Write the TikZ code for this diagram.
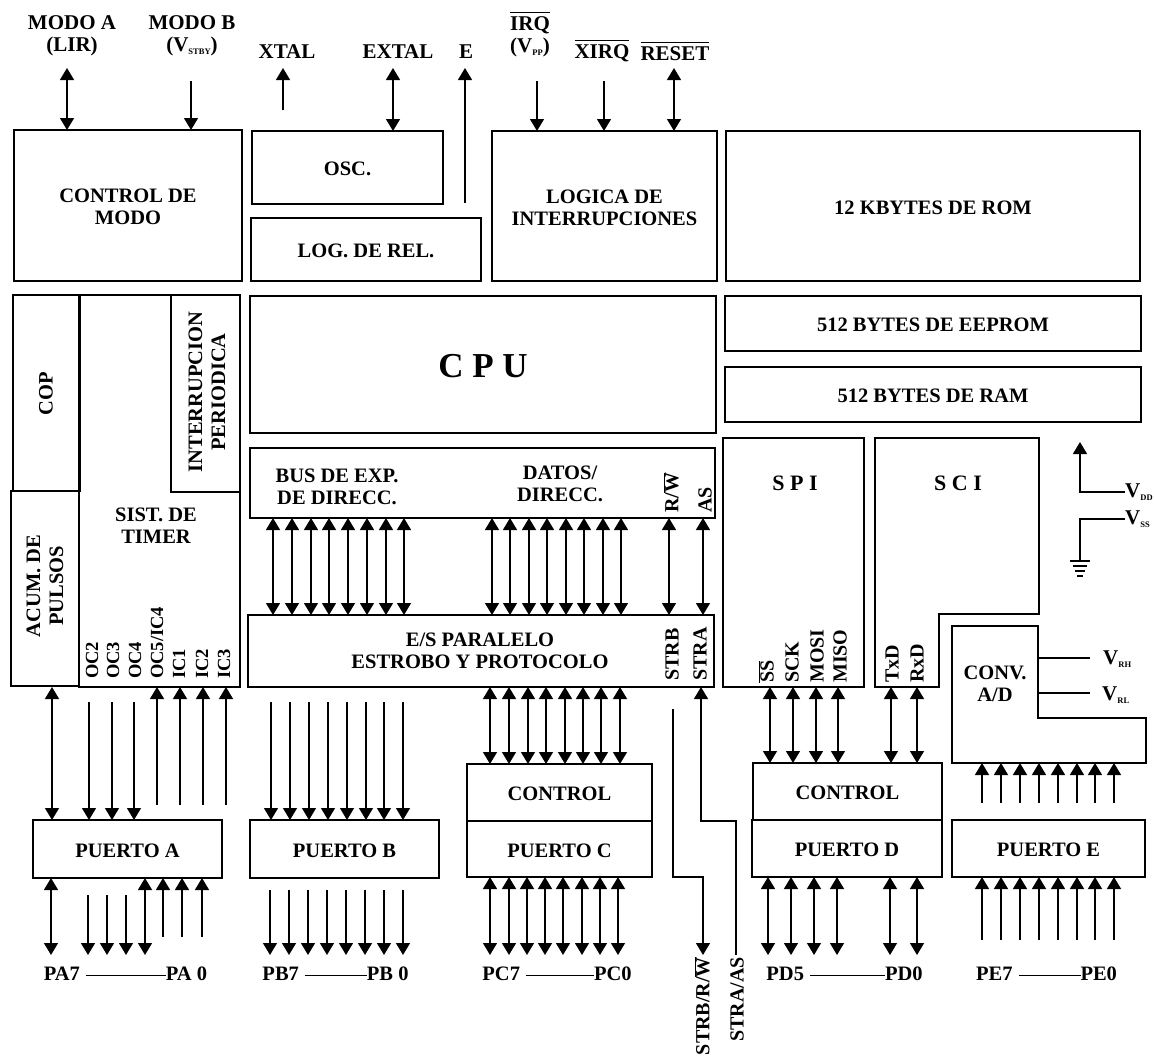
\documentclass[tikz,border=0pt]{standalone}
\usepackage{fontspec}
\setmainfont{Liberation Serif}
\usetikzlibrary{arrows.meta}
\newcommand{\bx}[6]{%
  \pgfmathsetmacro\bcx{(#2+#4)/2}\pgfmathsetmacro\bcy{(#3+#5)/2}%
  \pgfmathsetmacro\bw{#4-#2}\pgfmathsetmacro\bh{#5-#3}%
  \node[boxn,minimum width=\bw pt,minimum height=\bh pt] (#1) at (\bcx,\bcy) {};
  \node[lab] (#1t) at (\bcx,\bcy+1.5) {#6};}
\newcommand{\ol}[1]{$\overline{\mbox{#1}}$}
\newcommand{\olt}[1]{$\overline{\mbox{\rule{0pt}{17pt}#1}}$}
\newcommand{\sbs}[1]{\raisebox{-3pt}{\fontsize{8.5}{9}\selectfont #1}}
\newcommand{\dashln}[1]{\hspace{6pt}\rule[5pt]{#1pt}{1.2pt}}
\begin{document}
\begin{tikzpicture}[x=1pt,y=-1pt,
  >={Triangle[length=12pt,width=14pt]},
  boxn/.style={draw=black,line width=1.6pt,inner sep=0pt,outer sep=0pt},
  lab/.style={inner sep=0pt,align=center,font=\fontsize{20.5}{22}\selectfont\bfseries},
  smalllab/.style={inner sep=0pt,align=center,font=\fontsize{21}{22}\selectfont\bfseries},
  vlab/.style={inner sep=0pt,rotate=90,anchor=west,font=\fontsize{20}{22}\selectfont\bfseries},
  vlabt/.style={inner sep=0pt,rotate=90,anchor=west,font=\fontsize{18.5}{22}\selectfont\bfseries},
  vlabb/.style={inner sep=0pt,rotate=90,align=center,font=\fontsize{20.5}{23}\selectfont\bfseries},
  spaced/.style={inner sep=0pt,align=center,font=\fontsize{22}{24}\selectfont\bfseries},
  conn/.style={line width=1.4pt,black},
  plainln/.style={line width=1.6pt,black,line join=miter}]
\useasboundingbox (0,0) rectangle (1154,1061);

% --- top row boxes
\bx{mode}{14}{130}{242}{281}{CONTROL DE\\MODO}
\bx{osc}{252}{131}{443}{204}{OSC.}
\bx{logrel}{251}{218}{481}{281}{\raisebox{-2pt}{LOG. DE REL.}}
\bx{logint}{492}{131}{717}{281}{LOGICA DE\\INTERRUPCIONES}
\bx{rom}{726}{131}{1140}{281}{12 KBYTES DE ROM}
% --- timer group
\bx{timer}{79}{295}{240}{687}{}
\bx{cop}{13}{295}{80}{491}{}
\bx{acum}{11}{491}{79}{686}{}
\bx{intp}{171}{295}{240}{492}{}
\node[vlabb] (copt2) at (46,394) {COP};
\node[vlabb] (intt2) at (207,392) {INTERRUPCION\\PERIODICA};
\node[vlabb] (acumt2) at (45,586) {ACUM. DE\\PULSOS};
\node[lab] (timt2) at (156,526) {SIST. DE\\TIMER};
\foreach \t/\x in {OC2/92,OC3/113,OC4/135,{OC5/IC4}/157,IC1/179,IC2/202,IC3/224}
  \node[vlabt] at (\x,679) {\t};
% --- centre
\bx{cpu}{250}{296}{716}{433}{\fontsize{35}{38}\selectfont C P U}
\bx{bus}{250}{448}{715}{518}{}
\node[lab] (bust2) at (337,487) {BUS DE EXP.\\DE DIRECC.};
\node[lab] (datt2) at (560,484) {DATOS/\\DIRECC.};
\node[vlab] (rwt) at (671,513) {R/\ol{W}};
\node[vlab] (ast) at (705,513) {AS};
\bx{es}{248}{615}{714}{687}{}
\node[lab] (est2) at (480,651) {E/S PARALELO\\ESTROBO Y PROTOCOLO};
\node[vlab] (strbt) at (672,681) {STRB};
\node[vlab] (strat) at (700,681) {STRA};
% --- right memories
\bx{eeprom}{725}{296}{1141}{351}{512 BYTES DE EEPROM}
\bx{ram}{725}{367}{1141}{422}{512 BYTES DE RAM}
% --- SPI, SCI, ADC
\bx{spi}{723}{438}{864}{687}{}
\node[spaced] (spit) at (795,483) {S P I};
\foreach \t/\x in {\ol{SS}/766,SCK/792,MOSI/817,MISO/840,TxD/892,RxD/917}
  \node[vlab] at (\x,683) {\t};
\draw[plainln] (875,438) -- (1039,438) -- (1039,614) -- (939,614) -- (939,687) coordinate (scib) -- (875,687) -- cycle;
\node[spaced] (scit) at (958,483) {S C I};
\draw[plainln] (952,626) -- (1038,626) -- (1038,718) -- (1146,718) -- (1146,763) coordinate (adcb) -- (952,763) -- cycle;
\coordinate (adcr) at (1038,658);
\coordinate (adcrl) at (1038,693);
\node[lab] (adct) at (995,684) {CONV.\\A/D};
% --- lower boxes
\bx{ctrlc}{467}{764}{652}{821}{CONTROL}
\bx{ptc}{467}{821}{652}{877}{PUERTO C}
\bx{ctrld}{753}{763}{942}{820}{CONTROL}
\bx{ptd}{752}{820}{942}{877}{PUERTO D}
\bx{pte}{952}{820}{1145}{877}{PUERTO E}
\bx{pta}{33}{820}{222}{878}{PUERTO A}
\bx{ptb}{250}{820}{439}{878}{PUERTO B}

% --- top labels and connectors
\node[smalllab] (lma) at (72,36) {MODO A\\(LIR)};
\node[smalllab] (lmb) at (192,36) {MODO B\\(V\sbs{STBY})};
\node[smalllab] (lx) at (287,52) {XTAL};
\node[smalllab] (lex) at (398,52) {EXTAL};
\node[smalllab] (le) at (466,52) {E};
\node[smalllab] (lirq) at (530,34) {\olt{IRQ}\\(V\sbs{PP})};
\node[smalllab] (lxirq) at (602,51) {\olt{XIRQ}};
\node[smalllab] (lrst) at (675,51) {\olt{RESET}};
\coordinate (tipT) at (0,68);
\coordinate (srcT) at (0,81);
\draw[conn,<->] (67,0 |- tipT) -- (67,0 |- mode.north);
\draw[conn,->] (191,0 |- srcT) -- (191,0 |- mode.north);
\coordinate (xtalend) at (283,110);
\draw[conn,->] (xtalend) -- (283,0 |- tipT);
\draw[conn,<->] (393,0 |- tipT) -- (393,0 |- osc.north);
\coordinate (eend) at (465,203);
\draw[conn,->] (eend) -- (465,0 |- tipT);
\draw[conn,->] (537,0 |- srcT) -- (537,0 |- logint.north);
\draw[conn,->] (604,0 |- srcT) -- (604,0 |- logint.north);
\draw[conn,<->] (674,0 |- tipT) -- (674,0 |- logint.north);

% --- bus to E/S
\foreach \x in {273,292,311,329,348,367,386,404,492,510,529,547,566,584,603,621,669,703}
  \draw[conn,<->] (\x,0 |- bus.south) -- (\x,0 |- es.north);
% --- E/S to control C
\foreach \x in {490,509,528,546,565,583,601,620}
  \draw[conn,<->] (\x,0 |- es.south) -- (\x,0 |- ctrlc.north);
% --- Port C bottom
\coordinate (botT) at (0,955);
\foreach \x in {490,509,527,545,563,582,600,618}
  \draw[conn,<->] (\x,0 |- ptc.south) -- (\x,0 |- botT);
% --- Port A
\coordinate (aS) at (0,702);
\coordinate (aE) at (0,805);
\draw[conn,<->] (52,0 |- timer.south) -- (52,0 |- pta.north);
\foreach \x in {89,112,134}
  \draw[conn,->] (\x,0 |- aS) -- (\x,0 |- pta.north);
\foreach \x in {157,180,203,226}
  \draw[conn,->] (\x,0 |- aE) -- (\x,0 |- timer.south);
\coordinate (aLD) at (0,895);
\coordinate (aLU) at (0,937);
\draw[conn,<->] (51,0 |- pta.south) -- (51,0 |- botT);
\foreach \x in {88,107,126}
  \draw[conn,->] (\x,0 |- aLD) -- (\x,0 |- botT);
\draw[conn,<->] (145,0 |- pta.south) -- (145,0 |- botT);
\foreach \x in {163,182,202}
  \draw[conn,->] (\x,0 |- aLU) -- (\x,0 |- pta.south);
% --- Port B
\foreach \x in {271,290,309,328,347,366,384,403}
  \draw[conn,->] (\x,0 |- aS) -- (\x,0 |- ptb.north);
\coordinate (bLD) at (0,890);
\foreach \x in {270,289,308,327,346,365,384,403}
  \draw[conn,->] (\x,0 |- bLD) -- (\x,0 |- botT);
% --- strobe lines
\coordinate (strbS) at (673,709);
\draw[conn,->] (strbS) -- (673,0 |- ptc.south) -- (703,0 |- ptc.south) -- (703,0 |- botT);
\draw[conn,<-] (701,0 |- es.south) -- (701,0 |- ptc.north) -- (736,0 |- ptc.north) -- (736,0 |- botT);
% --- SPI, SCI to control D
\foreach \x in {770,793,816,838}
  \draw[conn,<->] (\x,0 |- spi.south) -- (\x,0 |- ctrld.north);
\foreach \x in {891,917}
  \draw[conn,<->] (\x,0 |- scib) -- (\x,0 |- ctrld.north);
% --- Port D bottom
\foreach \x in {768,791,814,837,890,917}
  \draw[conn,<->] (\x,0 |- ptd.south) -- (\x,0 |- botT);
% --- Port E
\coordinate (eT) at (0,803);
\coordinate (eB) at (0,940);
\foreach \x in {982,1001,1020,1039,1058,1077,1095,1114}{
  \draw[conn,->] (\x,0 |- eT) -- (\x,0 |- adcb);
  \draw[conn,->] (\x,0 |- eB) -- (\x,0 |- pte.south);}
% --- bottom labels
\node[lab] (lpa) at (125.5,974) {PA7\dashln{80}PA 0};
\node[lab] (lpb) at (335.5,974) {PB7\dashln{62}PB 0};
\node[lab] (lpc) at (557,974) {PC7\dashln{68}PC0};
\node[lab] (lpd) at (844.5,974) {PD5\dashln{75}PD0};
\node[lab] (lpe) at (1046.5,974) {PE7\dashln{62}PE0};
\node[inner sep=0pt,rotate=90,anchor=east,font=\fontsize{20}{22}\selectfont\bfseries] (lsb) at (702,957) {STRB/R/\ol{W}};
\node[inner sep=0pt,rotate=90,anchor=east,font=\fontsize{20}{22}\selectfont\bfseries] (lsa) at (737,957) {STRA/AS};
% --- supplies
\node[smalllab,anchor=west] (vdd) at (1125,492) {V\sbs{DD}};
\node[smalllab,anchor=west] (vss) at (1125,519) {V\sbs{SS}};
\node[smalllab,anchor=west] (vrh) at (1103,659) {V\sbs{RH}};
\node[smalllab,anchor=west] (vrl) at (1102,695) {V\sbs{RL}};
\coordinate (vddT) at (1080,442);
\coordinate (gnd) at (1080,560);
\draw[conn,->] (vdd.west) -- (1080,0 |- vdd.west) -- (vddT);
\draw[conn] (vss.west) -- (1080,0 |- vss.west) -- (gnd);
\draw[line width=2pt] (1070,561) -- (1090,561) (1073,566) -- (1087,566) (1075,571) -- (1085,571) (1077,576) -- (1083,576);
\draw[conn] (adcr) -- (1090,658);
\draw[conn] (adcrl) -- (1090,693);
\end{tikzpicture}
\end{document}
